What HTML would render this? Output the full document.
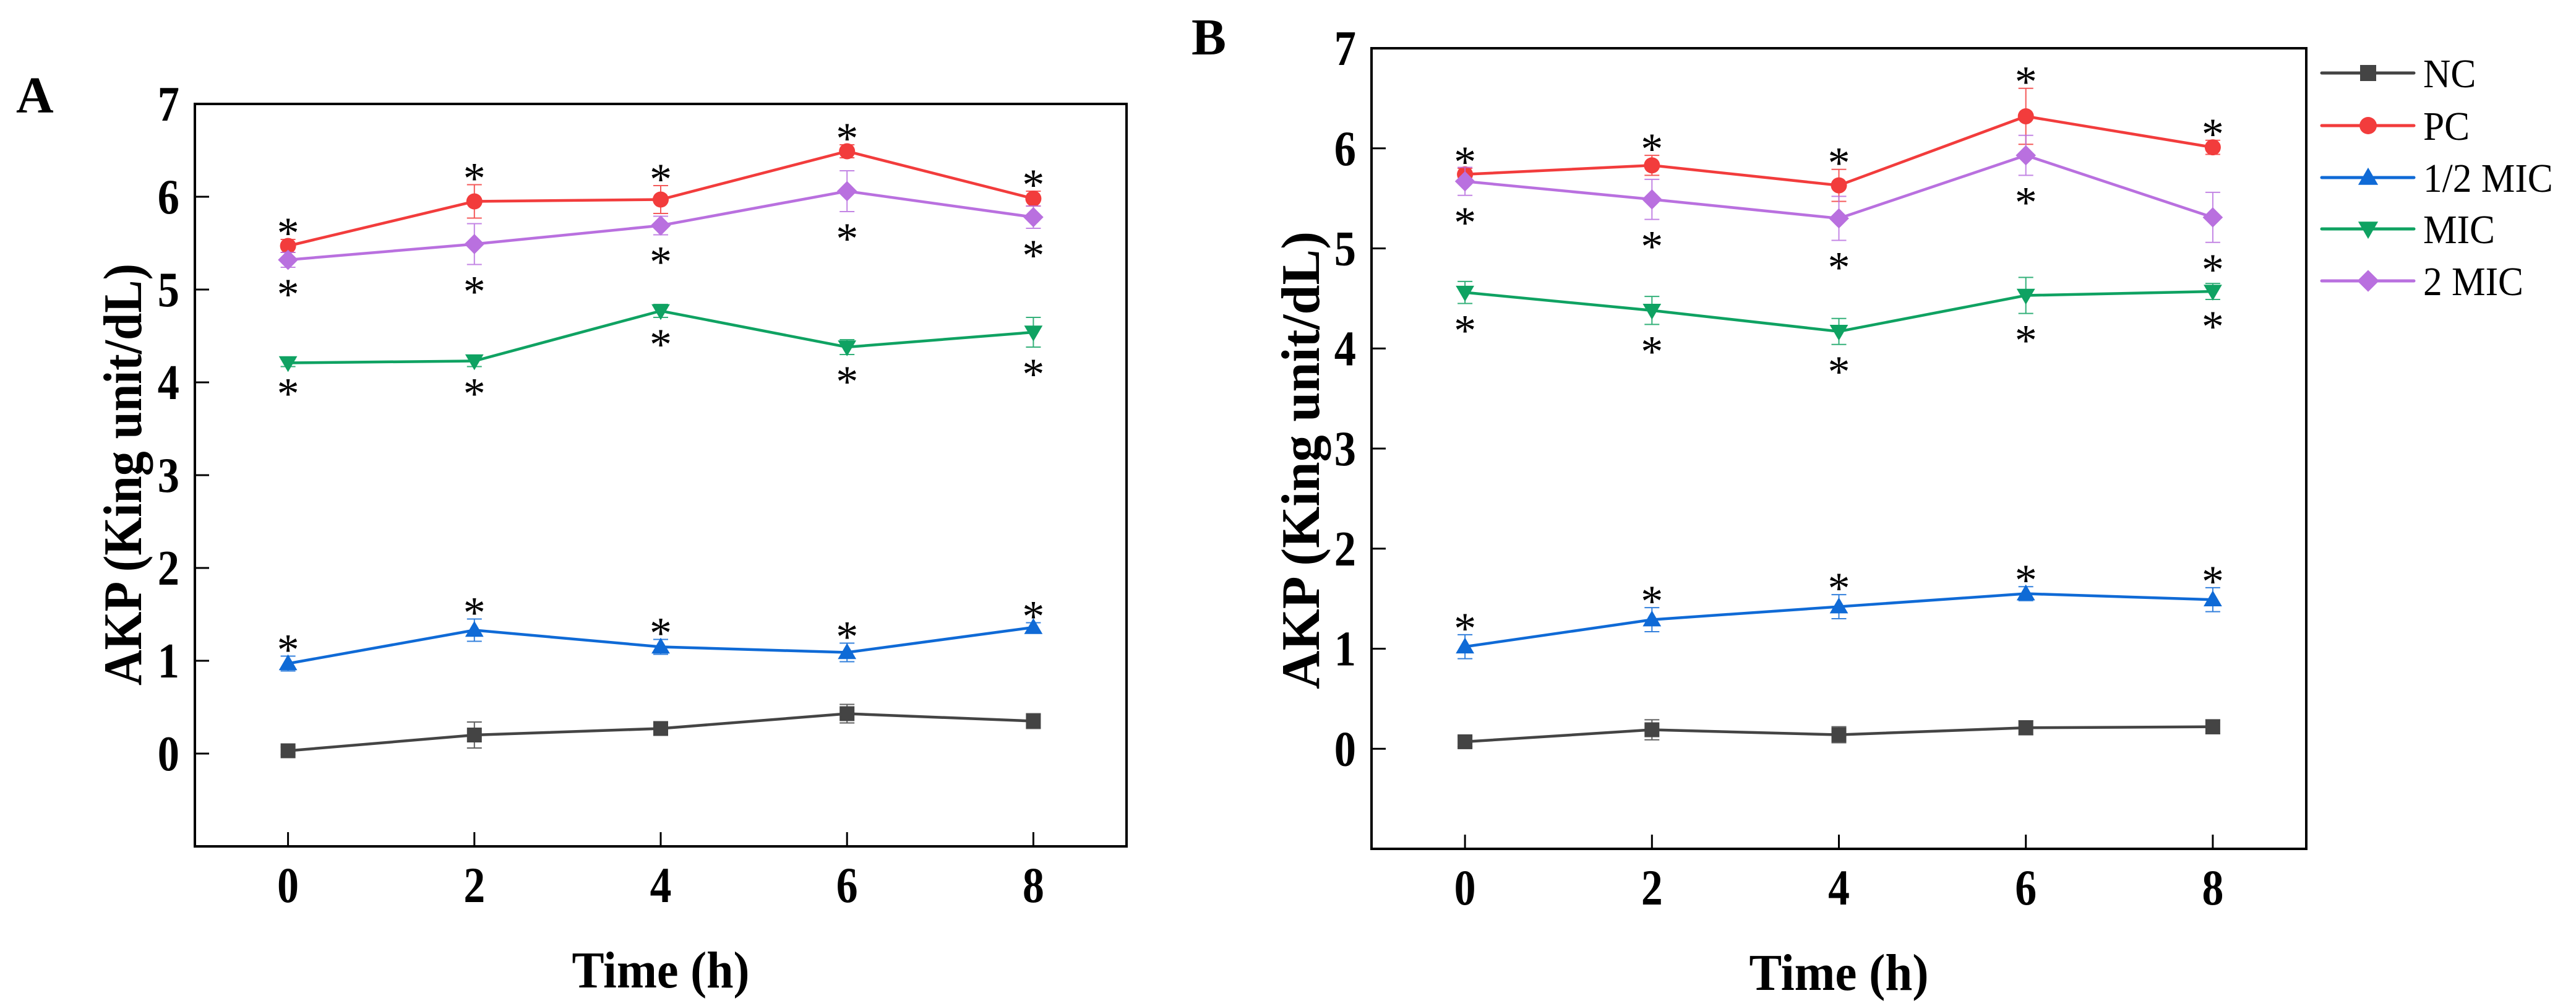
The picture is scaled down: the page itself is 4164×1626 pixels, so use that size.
<!DOCTYPE html>
<html><head><meta charset="utf-8"><style>
html,body{margin:0;padding:0;background:#fff}
svg{display:block;font-family:"Liberation Serif","DejaVu Serif",serif}
svg text{font-family:"Liberation Serif","DejaVu Serif",serif}
</style></head><body>
<svg id="fig" width="4164" height="1626" viewBox="0 0 4164 1626" xmlns="http://www.w3.org/2000/svg" font-family="'Liberation Serif', 'DejaVu Serif', serif">
</svg>
<script>
const times = [0, 2, 4, 6, 8];
const xTicks = [0, 2, 4, 6, 8];
const yTicks = [0, 1, 2, 3, 4, 5, 6, 7];
const seriesNames = ["NC", "PC", "1/2 MIC", "MIC", "2 MIC"];
const colors = ["#444444", "#f23c3c", "#0f6ad6", "#0fa262", "#b970df"];
const markers = ["square", "circle", "up", "down", "diamond"];
// Panel A
const aNC = [0.03, 0.20, 0.27, 0.43, 0.35];
const aNCerr = [0.04, 0.14, 0.05, 0.10, 0.08];
const aPC = [5.47, 5.95, 5.97, 6.49, 5.98];
const aPCerr = [0.07, 0.18, 0.15, 0.07, 0.08];
const aHalf = [0.97, 1.33, 1.15, 1.09, 1.36];
const aHalfErr = [0.08, 0.12, 0.08, 0.10, 0.05];
const aMIC = [4.21, 4.23, 4.77, 4.38, 4.54];
const aMICerr = [0.04, 0.06, 0.07, 0.08, 0.16];
const a2MIC = [5.32, 5.49, 5.69, 6.06, 5.78];
const a2MICerr = [0.08, 0.22, 0.10, 0.22, 0.12];
// Panel B
const bNC = [0.07, 0.19, 0.14, 0.21, 0.22];
const bNCerr = [0.05, 0.10, 0.08, 0.07, 0.07];
const bPC = [5.74, 5.83, 5.63, 6.32, 6.01];
const bPCerr = [0.06, 0.10, 0.16, 0.28, 0.07];
const bHalf = [1.02, 1.29, 1.42, 1.55, 1.49];
const bHalfErr = [0.12, 0.12, 0.12, 0.07, 0.12];
const bMIC = [4.56, 4.38, 4.17, 4.53, 4.57];
const bMICerr = [0.11, 0.14, 0.13, 0.18, 0.08];
const b2MIC = [5.67, 5.49, 5.30, 5.93, 5.31];
const b2MICerr = [0.14, 0.20, 0.22, 0.20, 0.25];
// star direction per series: 1 = above, -1 = below, 0 = none
const starDir = [0, 1, 1, -1, -1];

const NS = "http://www.w3.org/2000/svg";
const FONT = "'Liberation Serif', 'DejaVu Serif', serif";
const svg = document.getElementById("fig");
function mk(tag, attrs, parent) {
  const e = document.createElementNS(NS, tag);
  for (const k in attrs) e.setAttribute(k, attrs[k]);
  if (tag === "text") e.setAttribute("font-family", FONT);
  (parent || svg).appendChild(e);
  return e;
}

function drawMarker(g, type, cx, cy, s, color) {
  let m;
  if (type === "square") m = mk("rect", {x: cx - s/2, y: cy - s/2, width: s, height: s, fill: color}, g);
  else if (type === "circle") m = mk("circle", {cx: cx, cy: cy, r: s/2 + 1, fill: color}, g);
  else if (type === "up") m = mk("polygon", {points: `${cx},${cy - s*0.62} ${cx - s*0.62},${cy + s*0.45} ${cx + s*0.62},${cy + s*0.45}`, fill: color}, g);
  else if (type === "down") m = mk("polygon", {points: `${cx},${cy + s*0.62} ${cx - s*0.62},${cy - s*0.45} ${cx + s*0.62},${cy - s*0.45}`, fill: color}, g);
  else m = mk("polygon", {points: `${cx},${cy - s*0.68} ${cx + s*0.68},${cy} ${cx},${cy + s*0.68} ${cx - s*0.68},${cy}`, fill: color}, g);
  return m;
}

function panel(p) {
  const g = mk("g", {});
  
  
  const xs = v => p.left + (v - (-1)) / 10 * (p.right - p.left);
  const ys = v => p.bottom - (v - (-1)) / 8 * (p.bottom - p.top);

  const lt = mk("text", {x: p.letterX, y: p.letterY, "font-size": 84, "font-weight": "bold"}, g);
  lt.textContent = p.letter;
  
  

  yTicks.forEach(v => {
    const t = mk("line", {x1: p.left, x2: p.left + 23, y1: ys(v), y2: ys(v), stroke: "#000", "stroke-width": 3}, g);
    
    
    const lg = mk("g", {transform: `translate(${p.left - 25},${ys(v) + 27}) scale(0.88,1)`}, g);
    const lab = mk("text", {x: 0, y: 0, "font-size": 80, "font-weight": "bold", "text-anchor": "end"}, lg);
    lab.textContent = v;
    
    
  });
  xTicks.forEach(v => {
    const t = mk("line", {x1: xs(v), x2: xs(v), y1: p.bottom, y2: p.bottom - 23, stroke: "#000", "stroke-width": 3}, g);
    
    
    const lg = mk("g", {transform: `translate(${xs(v)},${p.bottom + 90}) scale(0.85,1)`}, g);
    const lab = mk("text", {x: 0, y: 0, "font-size": 82, "font-weight": "bold", "text-anchor": "middle"}, lg);
    lab.textContent = v;
    
    
  });

  const xt = mk("text", {x: (p.left + p.right) / 2 - p.xTitleLen / 2, y: p.bottom + 228, "font-size": 84, "font-weight": "bold", textLength: p.xTitleLen, lengthAdjust: "spacingAndGlyphs"}, g);
  xt.textContent = "Time (h)";
  
  
  const ytg = mk("g", {transform: `translate(${p.yTitleX},${p.yTitleY}) rotate(-90)`}, g);
  const yt = mk("text", {x: -p.yTitleLen / 2, y: 0, "font-size": 88, "font-weight": "bold", textLength: p.yTitleLen, lengthAdjust: "spacingAndGlyphs"}, ytg);
  yt.textContent = "AKP (King unit/dL)";
  
  

  p.series.forEach((s, si) => {
    const sg = mk("g", {}, g);
    
    
    const col = colors[si];
    const pts = s.vals.map((v, i) => `${xs(times[i])},${ys(v)}`).join(" ");
    const ln = mk("polyline", {points: pts, fill: "none", stroke: col, "stroke-width": 4.5}, sg);
    
    
    s.vals.forEach((v, i) => {
      const cx = xs(times[i]);
      const e = s.err[i];
      const yt1 = ys(v + e), yb1 = ys(v - e);
      const eb = mk("path", {d: `M${cx},${yt1}V${yb1}M${cx - 12},${yt1}H${cx + 12}M${cx - 12},${yb1}H${cx + 12}`, stroke: col, "stroke-width": 2, fill: "none", opacity: 0.85}, sg);
      
      
      const m = drawMarker(sg, markers[si], cx, ys(v), 24, col);
      
      
      const d = starDir[si];
      if (d !== 0) {
        const cy = d > 0 ? yt1 - 26 : yb1 + 28;
        const st = mk("text", {x: cx, y: cy + 40, "font-size": 72, "text-anchor": "middle"}, sg);
        st.textContent = "*";
        
        
      }
    });
  });

  const fr = mk("rect", {x: p.left, y: p.top, width: p.right - p.left, height: p.bottom - p.top, fill: "none", stroke: "#000", "stroke-width": 4}, g);
  
  
}

panel({name: "panel-a", letter: "A", letterX: 26, letterY: 182, left: 315, right: 1821, top: 168, bottom: 1368,
  xTitleLen: 287, yTitleX: 228, yTitleY: 767, yTitleLen: 682,
  series: [{vals: aNC, err: aNCerr}, {vals: aPC, err: aPCerr}, {vals: aHalf, err: aHalfErr}, {vals: aMIC, err: aMICerr}, {vals: a2MIC, err: a2MICerr}]});
panel({name: "panel-b", letter: "B", letterX: 1926, letterY: 88, left: 2217, right: 3728, top: 78, bottom: 1372,
  xTitleLen: 290, yTitleX: 2132, yTitleY: 744, yTitleLen: 740,
  series: [{vals: bNC, err: bNCerr}, {vals: bPC, err: bPCerr}, {vals: bHalf, err: bHalfErr}, {vals: bMIC, err: bMICerr}, {vals: b2MIC, err: b2MICerr}]});

const legendRows = [118, 203, 287, 370, 454];
const lg = mk("g", {});


seriesNames.forEach((n, i) => {
  const eg = mk("g", {}, lg);
  
  
  const y = legendRows[i];
  mk("line", {x1: 3753, x2: 3902, y1: y, y2: y, stroke: colors[i], "stroke-width": 5, "stroke-linecap": "round"}, eg);
  drawMarker(eg, markers[i], 3828, y, 26, colors[i]);
  const tg = mk("g", {transform: `translate(3917,${y + 23}) scale(0.93,1)`}, eg);
  const t = mk("text", {x: 0, y: 0, "font-size": 66}, tg);
  t.textContent = n;
  
  
});
</script>
</body></html>
